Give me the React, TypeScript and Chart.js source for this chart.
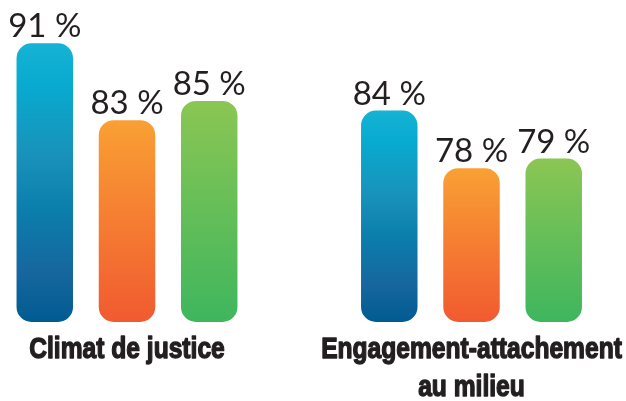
import React, { useEffect, useRef } from "react";
import { Chart, registerables } from "chart.js";

Chart.register(...registerables);

const categories: string[][] = [
  ["Climat de justice"],
  ["Engagement-attachement", "au milieu"],
];
const seriesA: number[] = [91, 84];
const seriesB: number[] = [83, 78];
const seriesC: number[] = [85, 79];

const Y_MIN = 62;
const Y_MAX = 95.5;

const GRADIENTS: [number, string][][] = [
  [
    [0, "#15b3d5"],
    [0.15, "#08aacf"],
    [0.4, "#1992ba"],
    [0.6, "#0b7eac"],
    [0.82, "#16679e"],
    [1, "#005b91"],
  ],
  [
    [0, "#f9a034"],
    [1, "#f15a30"],
  ],
  [
    [0, "#8bc653"],
    [1, "#3eb65e"],
  ],
];

function gradientFor(idx: number) {
  return (ctx: any) => {
    const chart = ctx.chart;
    const area = chart.chartArea;
    const yScale = chart.scales?.y;
    if (!area || !yScale || ctx.raw == null) return GRADIENTS[idx][0][1];
    const top = yScale.getPixelForValue(ctx.raw);
    const bottom = yScale.getPixelForValue(Y_MIN);
    const g = chart.ctx.createLinearGradient(0, top, 0, bottom);
    GRADIENTS[idx].forEach(([s, c]) => g.addColorStop(s, c));
    return g;
  };
}

const valueLabels = {
  id: "valueLabels",
  afterDatasetsDraw(chart: any) {
    const ctx = chart.ctx;
    ctx.save();
    ctx.font = "normal 33px Lato, 'Open Sans', sans-serif";
    ctx.fillStyle = "#231f20";
    ctx.textAlign = "center";
    ctx.textBaseline = "alphabetic";
    chart.data.datasets.forEach((ds: any, di: number) => {
      const meta = chart.getDatasetMeta(di);
      meta.data.forEach((el: any, i: number) => {
        ctx.fillText(`${ds.data[i]} %`, el.x, el.y - 6);
      });
    });
    ctx.restore();
  },
};

// Category labels in a condensed heavy face, placed at the x-scale's tick pixels
const categoryLabels = {
  id: "categoryLabels",
  afterDraw(chart: any) {
    const ctx = chart.ctx;
    const xScale = chart.scales.x;
    const bottom = chart.chartArea.bottom;
    ctx.save();
    ctx.font = "bold 30px 'Liberation Sans', Arial, sans-serif";
    ctx.fillStyle = "#231f20";
    ctx.strokeStyle = "#231f20";
    ctx.lineWidth = 1.4;
    ctx.lineJoin = "round";
    ctx.textAlign = "center";
    ctx.textBaseline = "alphabetic";
    (chart.data.labels as string[][]).forEach((lines, i) => {
      const x = xScale.getPixelForTick(i);
      lines.forEach((line, li) => {
        ctx.save();
        ctx.translate(x, bottom + 36 + li * 38);
        ctx.scale(0.82, 1);
        ctx.fillText(line, 0, 0);
        ctx.strokeText(line, 0, 0);
        ctx.restore();
      });
    });
    ctx.restore();
  },
};

export default function App() {
  const ref = useRef<HTMLCanvasElement | null>(null);

  useEffect(() => {
    document.body.style.margin = "0";
    const canvas = ref.current;
    if (!canvas) return;
    const common = {
      categoryPercentage: 0.716,
      barPercentage: 0.687,
      borderRadius: 15,
      borderSkipped: false,
      base: Y_MIN,
      clip: false,
    };
    const chart = new Chart(canvas, {
      type: "bar",
      data: {
        labels: categories as any,
        datasets: [
          { label: "A", data: seriesA, backgroundColor: gradientFor(0), ...common },
          { label: "B", data: seriesB, backgroundColor: gradientFor(1), ...common },
          { label: "C", data: seriesC, backgroundColor: gradientFor(2), ...common },
        ] as any,
      },
      options: {
        animation: false,
        responsive: false,
        maintainAspectRatio: false,
        layout: { padding: { left: 127, right: 154.5, top: 0, bottom: 79 } },
        plugins: {
          legend: { display: false },
          tooltip: { enabled: false },
        },
        scales: {
          x: {
            offset: false,
            grid: { display: false, drawTicks: false },
            border: { display: false },
            ticks: { display: false },
          },
          y: {
            display: false,
            min: Y_MIN,
            max: Y_MAX,
          },
        },
      },
      plugins: [valueLabels, categoryLabels],
    });
    return () => chart.destroy();
  }, []);

  return (
    <div style={{ width: 626, height: 401, background: "#ffffff" }}>
      <canvas ref={ref} width={626} height={401} style={{ display: "block" }} />
    </div>
  );
}
